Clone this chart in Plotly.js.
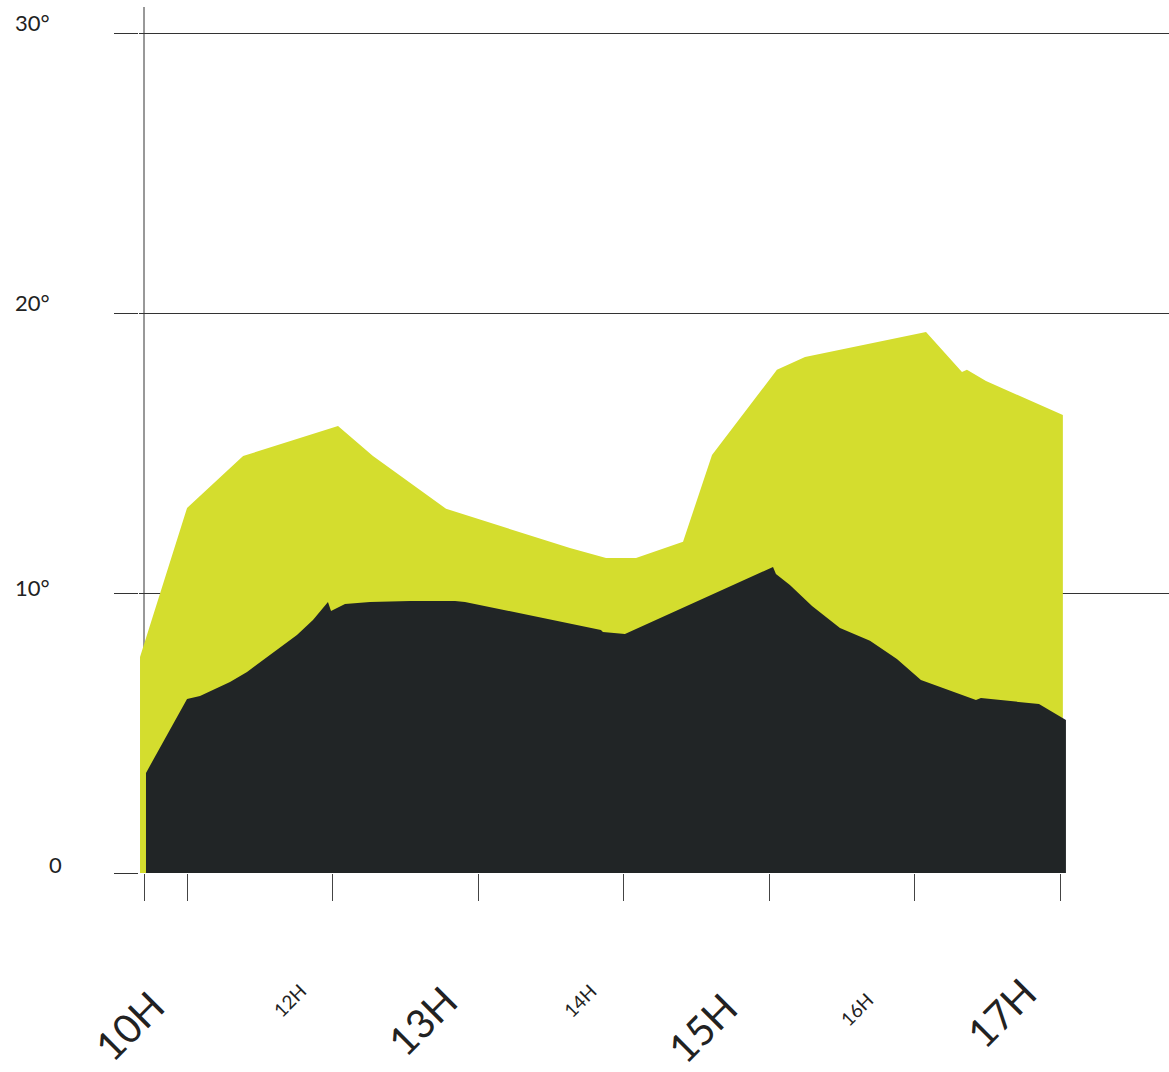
<!DOCTYPE html>
<html>
<head>
<meta charset="utf-8">
<script src="https://cdn.plot.ly/plotly-3.0.1.min.js"></script>
<style>html,body{margin:0;padding:0;background:#fff;}#chart{width:1169px;height:1072px;}</style>
</head>
<body>
<div id="chart"></div>
<script>
// ---- data (x in hours, y in degrees) ----
const upperHours = [10.677, 11.0, 11.385, 12.037, 12.277, 12.779, 13.630, 13.878, 14.084, 14.407, 14.606, 15.052, 15.245, 16.076, 16.323, 16.357, 16.488, 17.016];
const upperTemps = [7.72, 13.05, 14.91, 15.98, 14.91, 13.02, 11.62, 11.26, 11.26, 11.84, 14.95, 17.99, 18.45, 19.34, 17.91, 17.99, 17.59, 16.38];

const lowerHours = [10.718, 11.0, 11.089, 11.179, 11.295, 11.412, 11.522, 11.639, 11.755, 11.865, 11.968, 11.989, 12.030, 12.085, 12.257, 12.532, 12.841, 12.909, 13.843, 13.857, 14.008, 15.025, 15.045, 15.073, 15.141, 15.293, 15.485, 15.691, 15.876, 16.041, 16.419, 16.453, 16.852, 17.037];
const lowerTemps = [3.58, 6.22, 6.33, 6.54, 6.83, 7.19, 7.62, 8.05, 8.51, 9.05, 9.69, 9.37, 9.48, 9.62, 9.69, 9.73, 9.73, 9.69, 8.69, 8.62, 8.55, 10.94, 10.69, 10.58, 10.30, 9.55, 8.76, 8.30, 7.65, 6.90, 6.19, 6.26, 6.04, 5.47];

const xTickVals = [10.705, 11, 12, 13, 14, 15, 16, 17];
const hourLabels = ['10H', '12H', '13H', '14H', '15H', '16H', '17H'];
const hourLabelBig = [true, false, true, false, true, false, true];
const yLabelVals = [30, 20, 10, 0];
const yLabelText = ['30°', '20°', '10°', '0'];

// ---- layout geometry ----
const W = 1169, H = 1072;
const M = {l: 139, r: 0, t: 7, b: 199};
const PW = W - M.l - M.r, PH = H - M.t - M.b;
const px2paper = px => (px - M.l) / PW;
const py2paper = py => (H - M.b - py) / PH;

const FONT = 'Lato, "Open Sans", sans-serif';
const INK = '#222';

// label placement (pixel centers)
const hourLabelPos = [[129, 1026], [289, 1000], [422, 1021], [580, 1001], [702, 1028], [856, 1009], [1001, 1013]];
const yLabelPos = [[13, 23], [13, 302], [13, 587], [47, 864]];

const annotations = [];
hourLabels.forEach((t, i) => {
  annotations.push({
    text: t, xref: 'paper', yref: 'paper',
    x: px2paper(hourLabelPos[i][0]), y: py2paper(hourLabelPos[i][1]),
    xanchor: 'center', yanchor: 'middle', showarrow: false, textangle: -45,
    font: {family: FONT, size: hourLabelBig[i] ? 40 : 19, color: INK}
  });
});
yLabelText.forEach((t, i) => {
  annotations.push({
    text: t, xref: 'paper', yref: 'paper',
    x: px2paper(yLabelPos[i][0]), y: py2paper(yLabelPos[i][1]),
    xanchor: 'left', yanchor: 'middle', showarrow: false,
    font: {family: FONT, size: 22, color: INK}
  });
});

const traces = [
  {x: upperHours, y: upperTemps, type: 'scatter', mode: 'lines', fill: 'tozeroy',
   fillcolor: '#d4dd2e', line: {width: 0, color: '#d4dd2e'}, hoverinfo: 'skip'},
  {x: lowerHours, y: lowerTemps, type: 'scatter', mode: 'lines', fill: 'tozeroy',
   fillcolor: '#212526', line: {width: 0, color: '#212526'}, hoverinfo: 'skip'}
];

const layout = {
  width: W, height: H,
  margin: M,
  paper_bgcolor: '#fff', plot_bgcolor: '#fff',
  showlegend: false,
  xaxis: {
    range: [10.670, 17.745], showgrid: false, zeroline: false, showline: false,
    tickmode: 'array', tickvals: xTickVals, ticktext: xTickVals.map(() => ''),
    ticks: 'outside', ticklen: 27, tickwidth: 1, tickcolor: '#444',
    showticklabels: false, fixedrange: true
  },
  yaxis: {
    range: [0, 30.965], showgrid: true, gridcolor: '#333', gridwidth: 1,
    tickmode: 'array', tickvals: yLabelVals,
    ticks: 'outside', ticklen: 24, tickwidth: 1, tickcolor: '#333',
    showticklabels: false, zeroline: false, showline: false, fixedrange: true
  },
  shapes: [
    {type: 'line', xref: 'paper', yref: 'paper', x0: px2paper(144), x1: px2paper(144), y0: 0, y1: 1,
     line: {color: '#333', width: 1}, layer: 'below'}
  ],
  annotations: annotations
};

Plotly.newPlot('chart', traces, layout, {displayModeBar: false, staticPlot: true});
</script>
</body>
</html>
